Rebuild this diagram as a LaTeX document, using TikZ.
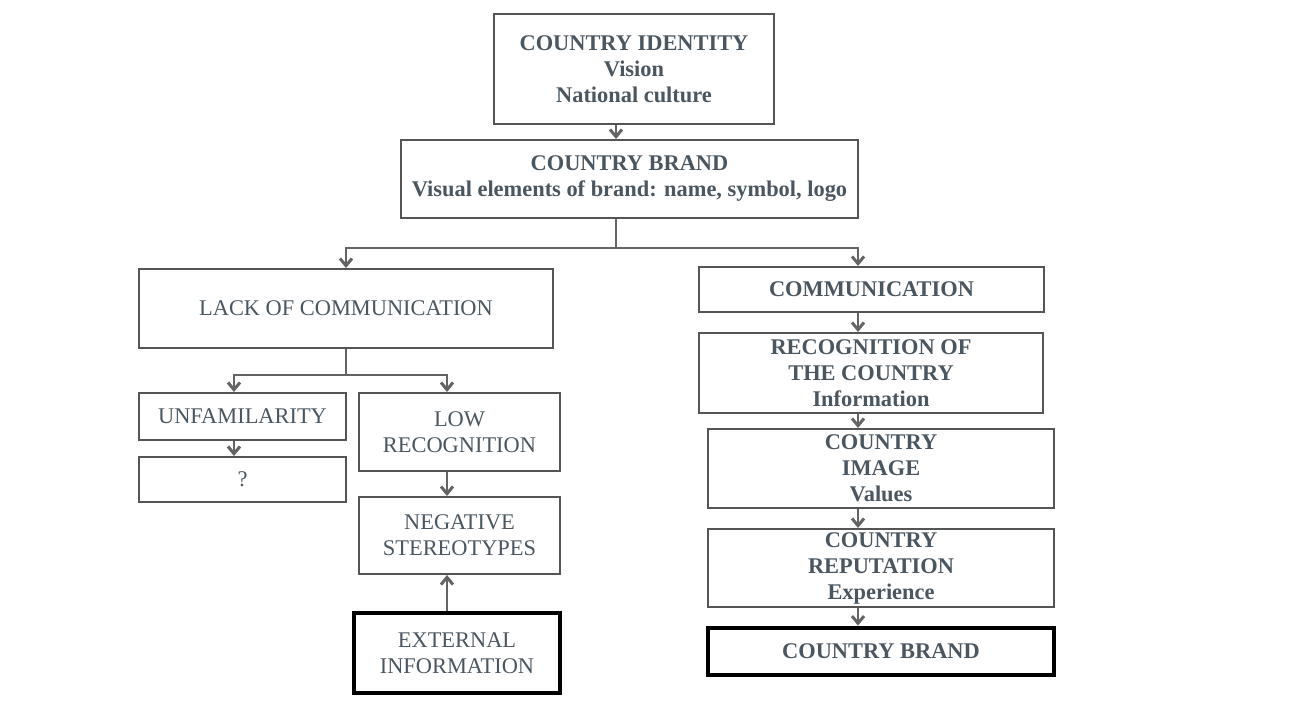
\documentclass[tikz,border=0pt]{standalone}
\usepackage{fontspec}
\setmainfont{Liberation Serif}
\usetikzlibrary{arrows.meta}
\definecolor{inkText}{RGB}{74,86,96}
\definecolor{boxLine}{RGB}{85,85,85}
\definecolor{linkLine}{RGB}{100,100,100}
\tikzset{
  box/.style={draw=boxLine, line width=1pt, inner sep=0pt, align=center,
    text=inkText, font=\fontsize{11.2}{13}\selectfont},
  boldbox/.style={box, font=\fontsize{11.2}{13}\selectfont\bfseries},
  heavybox/.style={draw=black, line width=2.4pt},
  link/.style={draw=linkLine, line width=1.3pt},
  arr/.style={link, -{Straight Barb[length=3.6pt,width=6pt,line width=1.5pt]}}
}
\begin{document}
\begin{tikzpicture}[x=0.5pt, y=-0.5pt]
\useasboundingbox[fill=white] (0,0) rectangle (1309,720);

% top of the hierarchy
\node[boldbox, minimum width=140pt, minimum height=55pt] (ident) at (634,69)
  {COUNTRY IDENTITY\\Vision\\National culture};
\node[boldbox, minimum width=228.5pt, minimum height=39pt] (brand) at (629.5,179)
  {COUNTRY BRAND\\Visual elements of brand: name, symbol, logo};

% left branch
\node[box, minimum width=207pt, minimum height=39.5pt] (lack) at (346,308.5)
  {LACK OF COMMUNICATION};
\node[box, minimum width=103.5pt, minimum height=23.5pt] (unf) at (242.5,416.5)
  {UNFAMILARITY};
\node[box, minimum width=103.5pt, minimum height=22.5pt] (unknown) at (242.5,479.5)
  {?};
\node[box, minimum width=100.5pt, minimum height=39pt] (low) at (459.5,432)
  {LOW\\RECOGNITION};
\node[box, minimum width=100.5pt, minimum height=38.5pt] (neg) at (459.5,535.5)
  {NEGATIVE\\STEREOTYPES};
\node[box, heavybox, minimum width=103pt, minimum height=40pt] (ext) at (457,653)
  {EXTERNAL\\INFORMATION};

% right branch
\node[boldbox, minimum width=172.5pt, minimum height=22.5pt] (comm) at (871.5,289.5)
  {COMMUNICATION};
\node[boldbox, minimum width=172pt, minimum height=40pt] (recog) at (871,373)
  {RECOGNITION OF\\THE COUNTRY\\Information};
\node[boldbox, minimum width=173pt, minimum height=39.5pt] (image) at (881,468.5)
  {COUNTRY\\IMAGE\\Values};
\node[boldbox, minimum width=173pt, minimum height=39pt] (rep) at (881,568)
  {COUNTRY\\REPUTATION\\Experience};
\node[boldbox, heavybox, minimum width=173pt, minimum height=23.5pt] (final) at (881,651.5)
  {COUNTRY BRAND};

% columns and junctions used by the connectors
\coordinate (topx) at (616,0);
\coordinate (split) at (616,248);
\coordinate (rightx) at (858,0);
\coordinate (lsplit) at (346,375);
\coordinate (unfx) at (234,0);
\coordinate (lowx) at (447,0);

% connectors
\draw[arr] (ident.south -| topx) -- (brand.north -| topx);
\draw[link] (brand.south -| split) -- (split);
\draw[arr] (split) -| (lack.north);
\draw[arr] (split) -| (comm.north -| rightx);

\draw[link] (lack.south) -- (lsplit);
\draw[arr] (lsplit) -| (unf.north -| unfx);
\draw[arr] (lsplit) -| (low.north -| lowx);
\draw[arr] (unf.south -| unfx) -- (unknown.north -| unfx);
\draw[arr] (low.south -| lowx) -- (neg.north -| lowx);
\draw[arr] (ext.north -| lowx) -- (neg.south -| lowx);

\draw[arr] (comm.south -| rightx) -- (recog.north -| rightx);
\draw[arr] (recog.south -| rightx) -- (image.north -| rightx);
\draw[arr] (image.south -| rightx) -- (rep.north -| rightx);
\draw[arr] (rep.south -| rightx) -- (final.north -| rightx);
\end{tikzpicture}
\end{document}
